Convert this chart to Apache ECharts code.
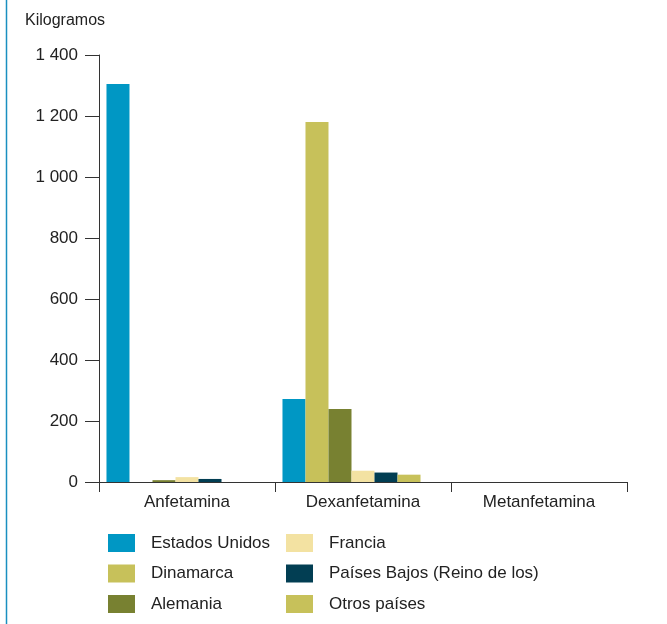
<!DOCTYPE html>
<html>
<head>
<meta charset="utf-8">
<script src="https://cdn.jsdelivr.net/npm/echarts@6/dist/echarts.min.js"></script>
<style>
  html, body { margin: 0; padding: 0; background: #fff; }
  #chart { width: 667px; height: 624px; }
</style>
</head>
<body>
<div id="chart"></div>
<script>
// Kilogramos por sustancia y país
const categories = ['Anfetamina', 'Dexanfetamina', 'Metanfetamina'];
const yTicks = [0, 200, 400, 600, 800, 1000, 1200, 1400];

const estadosUnidos = [1305, 272, 0];
const dinamarca = [0, 1180, 0];
const alemania = [6, 239, 0];
const francia = [16, 37, 0];
const paisesBajos = [10, 31, 0];
const otrosPaises = [0, 24, 0];

const FONT = '"Liberation Sans", Arial, sans-serif';

const seriesDefs = [
    { name: 'Estados Unidos', data: estadosUnidos, color: '#0097c4' },
    { name: 'Dinamarca', data: dinamarca, color: '#c7c15a' },
    { name: 'Alemania', data: alemania, color: '#788131' },
    { name: 'Francia', data: francia, color: '#f3e2a2' },
    { name: 'Países Bajos (Reino de los)', data: paisesBajos, color: '#023e53' },
    { name: 'Otros países', data: otrosPaises, color: '#c7c15a' }
];

const series = seriesDefs.map(s => ({
    name: s.name,
    type: 'bar',
    data: s.data,
    itemStyle: { color: s.color },
    barGap: '0%',
    barCategoryGap: '8.5%'
}));
// empty slot at the end of each group (the source leaves room for it)
series.push({ name: '_blank', type: 'bar', data: [null, null, null], barGap: '0%', barCategoryGap: '8.5%' });

const legendBase = {
    orient: 'vertical',
    padding: 0,
    height: 90,
    itemWidth: 27,
    itemHeight: 18,
    itemGap: 12.5,
    icon: 'rect',
    selectedMode: false,
    textStyle: { fontFamily: FONT, fontSize: 17, color: '#222', padding: [0, 0, 0, 11] }
};

const chart = echarts.init(document.getElementById('chart'));
chart.setOption({
    animation: false,
    grid: { left: 99, right: 40, top: 55, bottom: 142 },
    legend: [
        Object.assign({}, legendBase, { left: 108, top: 534, data: seriesDefs.slice(0, 3).map(s => s.name) }),
        Object.assign({}, legendBase, { left: 286, top: 534, data: seriesDefs.slice(3).map(s => s.name) })
    ],
    graphic: [
        { type: 'line', shape: { x1: 6.5, y1: 0, x2: 6.5, y2: 624 }, style: { stroke: '#1a8fc0', lineWidth: 1.5 } },
        { type: 'text', left: 25, top: 13, style: { text: 'Kilogramos', fontFamily: FONT, fontSize: 16, fill: '#222' } }
    ],
    xAxis: {
        type: 'category',
        data: categories,
        axisLine: { lineStyle: { color: '#333', width: 1 } },
        axisTick: { show: true, length: 10, lineStyle: { color: '#333' } },
        axisLabel: { fontFamily: FONT, fontSize: 17, color: '#222', margin: 12 }
    },
    yAxis: {
        type: 'value',
        min: yTicks[0],
        max: yTicks[yTicks.length - 1],
        interval: 200,
        axisLine: { show: true, lineStyle: { color: '#333', width: 1 } },
        axisTick: { show: true, length: 14, lineStyle: { color: '#333' } },
        splitLine: { show: false },
        axisLabel: {
            fontFamily: FONT, fontSize: 17, color: '#222', margin: 21,
            formatter: v => String(v).replace(/\B(?=(\d{3})+(?!\d))/g, ' ')
        }
    },
    series: series
});
</script>
</body>
</html>
